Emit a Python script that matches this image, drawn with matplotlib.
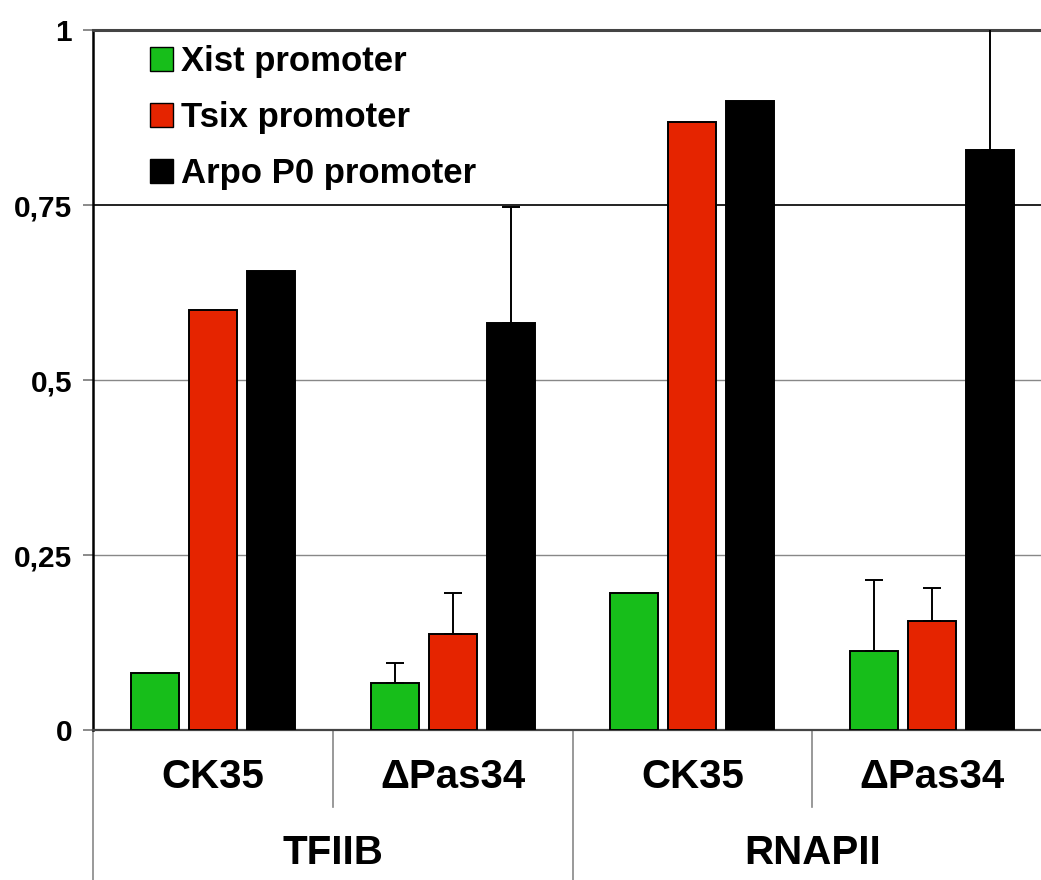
import matplotlib
matplotlib.use("Agg")
import matplotlib.pyplot as plt
import numpy as np

plt.rcParams['font.family'] = ['Liberation Sans', 'DejaVu Sans']
plt.rcParams['font.weight'] = 'bold'

# data
subgroups = ["CK35", "\u0394Pas34", "CK35", "\u0394Pas34"]
groups = ["TFIIB", "RNAPII"]
series = ["Xist promoter", "Tsix promoter", "Arpo P0 promoter"]
xist = [0.081, 0.067, 0.196, 0.113]
tsix = [0.600, 0.137, 0.869, 0.156]
arpo = [0.656, 0.581, 0.899, 0.829]
xist_err = [0, 0.029, 0, 0.101]
tsix_err = [0, 0.059, 0, 0.047]
arpo_err = [0, 0.166, 0, 0.2]
yticks = [0, 0.25, 0.5, 0.75, 1]
ytick_labels = ["0", "0,25", "0,5", "0,75", "1"]

colors = ["#17be1a", "#e52400", "#000000"]

fig = plt.figure(figsize=(10.41, 8.8), dpi=100)
ax = fig.add_axes([93 / 1041, 1 - 730 / 880, (1052 - 93) / 1041, 700 / 880])

x = np.arange(len(subgroups))
w = 0.2
off = 0.242
vals = [xist, tsix, arpo]
errs = [xist_err, tsix_err, arpo_err]
for i in range(3):
    xs = x + (i - 1) * off
    ax.bar(xs, vals[i], w, color=colors[i], edgecolor="black", linewidth=1.4,
           label=series[i], zorder=3)
    e = np.array(errs[i])
    m = e > 0
    ax.errorbar(xs[m], np.array(vals[i])[m], yerr=[np.zeros(m.sum()), e[m]],
                fmt="none", ecolor="black", elinewidth=1.4, capsize=6.5,
                capthick=1.4, zorder=4)

ax.set_xlim(-0.5, 3.5)
ax.set_ylim(0, 1)
ax.set_xticks([])
ax.set_yticks(yticks)
ax.set_yticklabels(ytick_labels, fontsize=21.5, fontweight="bold")
ax.tick_params(axis="y", length=7, width=1.2, color="#777777", pad=8)

# grid lines
for yv in [0.25, 0.5]:
    ax.axhline(yv, color="#888888", lw=1.0, zorder=1)
ax.axhline(0.75, color="#222222", lw=1.4, zorder=1)

ax.spines["right"].set_visible(False)
ax.spines["top"].set_color("#444444")
ax.spines["top"].set_linewidth(2.2)
ax.spines["left"].set_color("black")
ax.spines["left"].set_linewidth(1.8)
ax.spines["bottom"].set_color("#444444")
ax.spines["bottom"].set_linewidth(1.6)

# category labels
tr = ax.get_xaxis_transform()
for xi, lab in zip(x, subgroups):
    ax.text(xi, -0.067, lab, transform=tr, ha="center", va="center",
            fontsize=29, fontweight="bold")
for gi, lab in enumerate(groups):
    ax.text(0.5 + 2 * gi, -0.175, lab, transform=tr, ha="center", va="center",
            fontsize=29, fontweight="bold")

# separators
for xs_ in [0.5, 2.5]:
    ax.plot([xs_, xs_], [0, -0.11], transform=tr, color="#888888", lw=1.2,
            clip_on=False)
for xs_ in [-0.5, 1.5, 3.5]:
    ax.plot([xs_, xs_], [0, -0.22], transform=tr, color="#888888", lw=1.2,
            clip_on=False)

leg = ax.legend(loc="upper left", bbox_to_anchor=(0.038, 1.008), frameon=False,
                handlelength=0.66, handleheight=0.66,
                handletextpad=0.22, labelspacing=0.66, borderaxespad=0.2,
                prop={"weight": "bold", "size": 25})
for h in leg.legend_handles:
    h.set_linewidth(1.0)

fig.savefig("out.png", dpi=100)
